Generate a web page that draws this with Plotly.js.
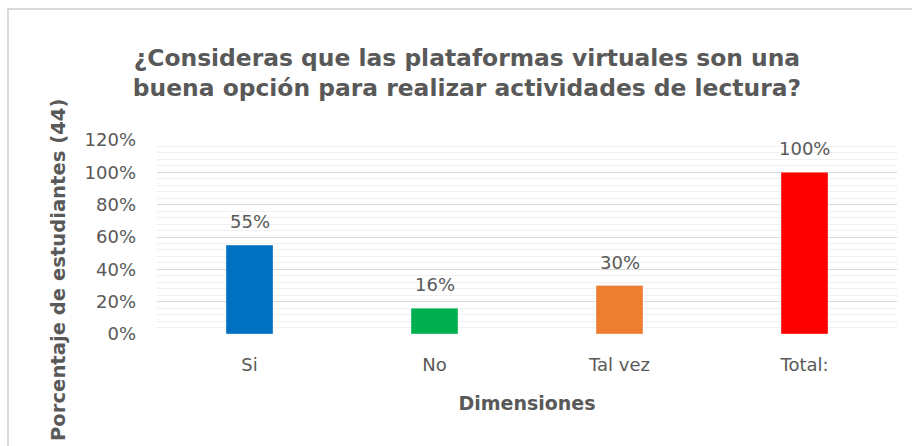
<!DOCTYPE html>
<html>
<head>
<meta charset="utf-8">
<script src="https://cdn.plot.ly/plotly-3.0.1.min.js"></script>
<style>
  html, body { margin: 0; padding: 0; background: #ffffff; }
  #chart { width: 912px; height: 446px; position: absolute; left: 0; top: 0; }
  #frame { position: absolute; left: 7px; top: 8px; width: 930px; height: 460px;
           border-left: 2px solid #dadada; border-top: 2px solid #dadada; pointer-events: none; }
</style>
</head>
<body>
<div id="chart"></div>
<div id="frame"></div>
<script>
const categories = ["Si", "No", "Tal vez", "Total:"];
const values = [55, 16, 30, 100];
const barColors = ["#0070C0", "#00B050", "#ED7D31", "#FF0000"];
const yTickValues = [0, 20, 40, 60, 80, 100, 120];
const yTickLabels = ["0%", "20%", "40%", "60%", "80%", "100%", "120%"];
const chartTitle = "¿Consideras que las plataformas virtuales son una<br>buena opción para realizar actividades de lectura?";
const xTitle = "Dimensiones";
const yTitle = "Porcentaje de estudiantes (44)";

const FONT = "'DejaVu Sans', sans-serif";
const GREY = "#595959";

const trace = {
  type: "bar",
  x: categories,
  y: values,
  marker: { color: barColors, line: { color: "rgba(255,255,255,0.35)", width: 1 } },
  hoverinfo: "skip"
};

const labelAnnotations = categories.map((c, i) => ({
  x: c, y: values[i], xref: "x", yref: "y",
  text: values[i] + "%",
  showarrow: false, yanchor: "bottom", yshift: 11,
  font: { family: FONT, size: 18, color: GREY }
}));

const layout = {
  width: 912, height: 446,
  margin: { l: 157, r: 15, t: 140, b: 112 },
  paper_bgcolor: "#ffffff", plot_bgcolor: "#ffffff",
  showlegend: false,
  bargap: 0.746,
  title: {
    text: chartTitle,
    x: 0.512, xref: "container", xanchor: "center",
    y: 0.852, yref: "container", yanchor: "middle",
    font: { family: FONT, size: 23.4, color: GREY, weight: "bold" }
  },
  xaxis: {
    type: "category",
    showgrid: false, zeroline: false, showline: false, ticks: "",
    ticklabelstandoff: 18,
    tickfont: { family: FONT, size: 18, color: GREY },
    title: { text: xTitle, standoff: 22, font: { family: FONT, size: 19, color: GREY, weight: "bold" } }
  },
  yaxis: {
    range: [0, 120],
    tickvals: yTickValues, ticktext: yTickLabels,
    showgrid: true, gridcolor: "#d9d9d9", gridwidth: 1,
    zeroline: false, showline: false, ticks: "",
    ticklabelstandoff: 20,
    tickfont: { family: FONT, size: 18, color: GREY },
    minor: { dtick: 4, showgrid: true, gridcolor: "#f0f0f0", gridwidth: 1, ticks: "" }
  },
  annotations: labelAnnotations.concat([{
    xref: "paper", yref: "paper",
    x: -0.1324, y: 0.33,
    text: yTitle, textangle: -90, showarrow: false,
    xanchor: "center", yanchor: "middle",
    font: { family: FONT, size: 19.6, color: GREY, weight: "bold" }
  }])
};

Plotly.newPlot("chart", [trace], layout, { displayModeBar: false, staticPlot: true });
</script>
</body>
</html>
